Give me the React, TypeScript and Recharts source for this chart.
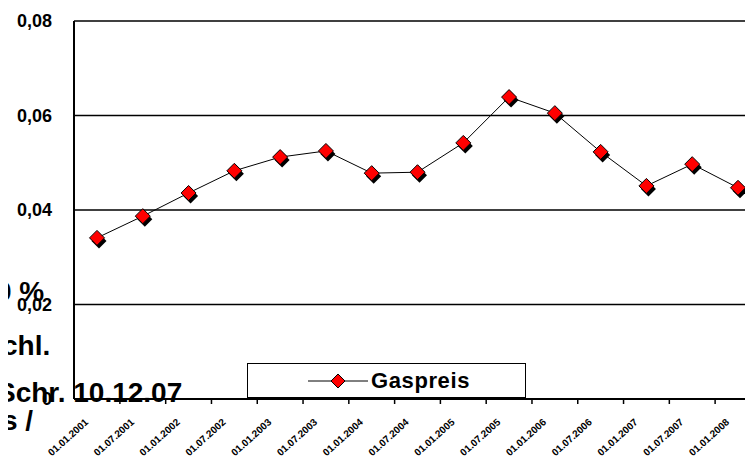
import React from "react";
import { LineChart, Line, XAxis, YAxis, CartesianGrid, Legend } from "recharts";

const dates = [
  "01.01.2001", "01.07.2001", "01.01.2002", "01.07.2002", "01.01.2003",
  "01.07.2003", "01.01.2004", "01.07.2004", "01.01.2005", "01.07.2005",
  "01.01.2006", "01.07.2006", "01.01.2007", "01.07.2007", "01.01.2008",
];
const gaspreis = [
  0.0341, 0.0387, 0.0436, 0.0483, 0.0512, 0.0525, 0.0478, 0.048,
  0.0542, 0.0639, 0.0605, 0.0523, 0.0451, 0.0497, 0.0447,
];
const yTicks = [0, 0.02, 0.04, 0.06, 0.08];
const seriesName = "Gaspreis";
const overlayTexts = ["0 %", "chl.", "Schr. 10.12.07", "s /"];

const data = dates.map((d, i) => ({ date: d, value: gaspreis[i] }));

const FONT = "'Liberation Sans', Arial, sans-serif";

const fmt = (v: number) => (v === 0 ? "0" : v.toFixed(2).replace(".", ","));

const Diamond = (props: any) => {
  const { cx, cy } = props;
  if (cx == null || cy == null) return null;
  const r = 7.5;
  const pts = (ox: number, oy: number) =>
    `${cx + ox},${cy + oy - r} ${cx + ox + r},${cy + oy} ${cx + ox},${cy + oy + r} ${cx + ox - r},${cy + oy}`;
  return (
    <g>
      <polygon points={pts(2, 3)} fill="#000" />
      <polygon points={pts(0, 0)} fill="#ff0000" stroke="#000" strokeWidth={1} />
    </g>
  );
};

const YTick = (props: any) => {
  const { y, payload } = props;
  return (
    <text x={52} y={y + 6} textAnchor="end" fontSize={18} fontWeight="bold" fontFamily={FONT} fill="#000">
      {fmt(payload.value)}
    </text>
  );
};

const XTick = (props: any) => {
  const { x, y, payload } = props;
  const half = 22.9;
  return (
    <g>
      <line x1={x + half} y1={y - 8} x2={x + half} y2={y - 3} stroke="#000" strokeWidth={1.5} />
      <text
        x={x - 8}
        y={y + 16}
        textAnchor="end"
        fontSize={10}
        fontWeight="bold"
        fontFamily={FONT}
        fill="#000"
        transform={`rotate(-42, ${x - 8}, ${y + 16})`}
      >
        {payload.value}
      </text>
    </g>
  );
};

const LegendBox = () => (
  <div
    style={{
      width: 279,
      height: 35,
      border: "1.5px solid #000",
      background: "#fff",
      boxSizing: "border-box",
      display: "flex",
      alignItems: "center",
    }}
  >
    <svg width={70} height={30} style={{ marginLeft: 58 }}>
      <line x1={2} y1={15} x2={62} y2={15} stroke="#000" strokeWidth={1} />
      <polygon points="32,8 39,15 32,22 25,15" fill="#ff0000" stroke="#000" strokeWidth={1} />
    </svg>
    <span style={{ fontFamily: FONT, fontWeight: "bold", fontSize: 22, marginLeft: -5, letterSpacing: 0.6 }}>
      {seriesName}
    </span>
  </div>
);

const textStyle: React.CSSProperties = {
  position: "absolute",
  fontFamily: FONT,
  fontWeight: "bold",
  fontSize: 28,
  lineHeight: "28px",
  color: "#000",
  whiteSpace: "nowrap",
};

export default function App() {
  return (
    <div
      style={{
        position: "relative",
        margin: "-8px 0 0 -8px",
        width: 753,
        height: 460,
        overflow: "hidden",
        background: "#fff",
      }}
    >
      <div style={{ position: "absolute", left: 0, top: 0 }}>
        <LineChart width={770} height={460} data={data} margin={{ top: 21, right: 9, bottom: 0, left: 0 }}>
          <CartesianGrid vertical={false} stroke="#000" strokeWidth={1.5} />
          <XAxis
            dataKey="date"
            interval={0}
            height={61}
            padding={{ left: 23, right: 23 }}
            tickLine={false}
            axisLine={{ stroke: "#000", strokeWidth: 2 }}
            tick={<XTick />}
          />
          <YAxis
            width={74}
            domain={[0, 0.08]}
            ticks={yTicks}
            tickLine={false}
            axisLine={{ stroke: "#000", strokeWidth: 2 }}
            tick={<YTick />}
          />
          <Legend
            layout="horizontal"
            verticalAlign="middle"
            align="center"
            content={() => <LegendBox />}
            wrapperStyle={{ left: 247, top: 363, width: 279, height: 35 }}
          />
          <Line
            type="linear"
            dataKey="value"
            name={seriesName}
            stroke="#000"
            strokeWidth={1}
            dot={<Diamond />}
            activeDot={false}
            isAnimationActive={false}
          />
        </LineChart>
      </div>
      <div style={{ ...textStyle, left: -4, top: 278 }}>{overlayTexts[0]}</div>
      <div style={{ ...textStyle, left: 2, top: 332 }}>{overlayTexts[1]}</div>
      <div style={{ ...textStyle, left: -3, top: 379 }}>{overlayTexts[2]}</div>
      <div style={{ ...textStyle, left: 2, top: 407 }}>{overlayTexts[3]}</div>
    </div>
  );
}
